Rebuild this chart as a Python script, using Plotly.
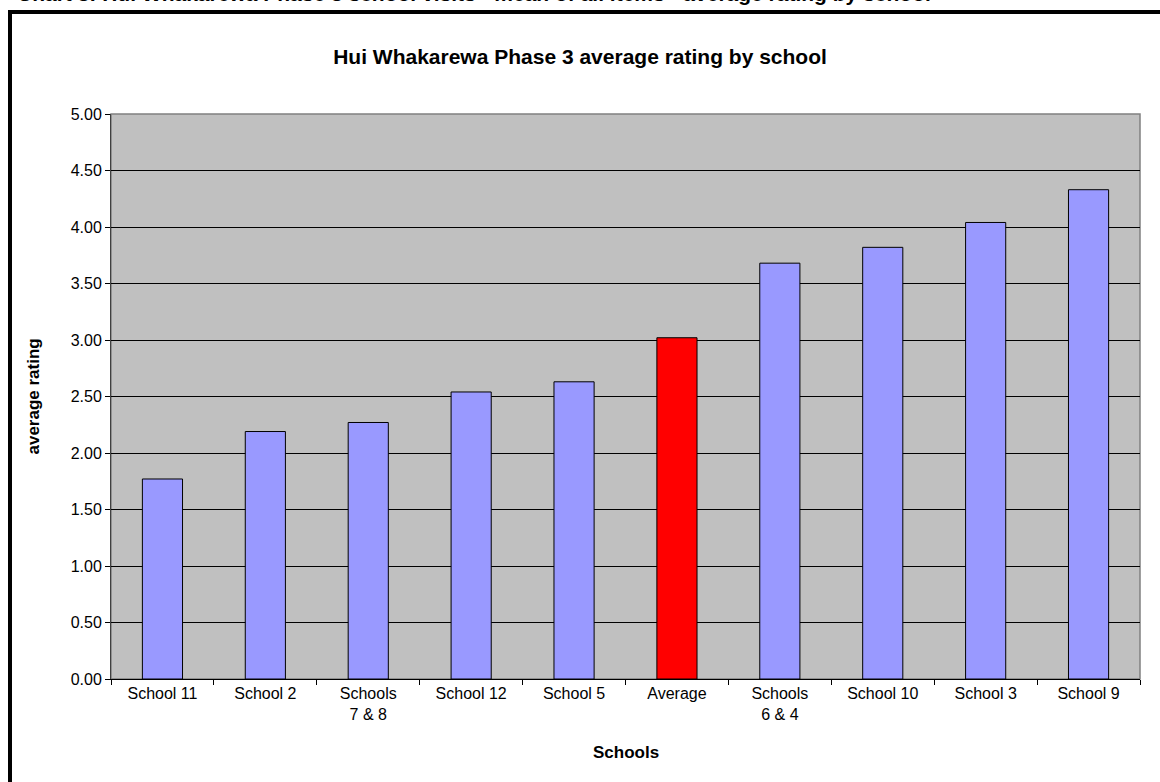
import plotly.graph_objects as go

# Valores
escolas = ["School 11", "School 2", "Schools<br>7 & 8", "School 12", "School 5",
           "Average", "Schools<br>6 & 4", "School 10", "School 3", "School 9"]
media = [1.77, 2.19, 2.27, 2.54, 2.63, 3.02, 3.68, 3.82, 4.04, 4.33]
cores = ["#9999FF", "#9999FF", "#9999FF", "#9999FF", "#9999FF",
         "#FF0000", "#9999FF", "#9999FF", "#9999FF", "#9999FF"]
y_ticks = [0, 0.5, 1, 1.5, 2, 2.5, 3, 3.5, 4, 4.5, 5]

fonte = "Liberation Sans, Arial, sans-serif"

fig = go.Figure()

fig.add_trace(
    go.Bar(
        x=escolas,
        y=media,
        marker_color=cores,
        marker_line_color="black",
        marker_line_width=1,
        hoverinfo="x+y",
    )
)

fig.update_layout(
    width=1160,
    height=782,
    margin=dict(l=111, r=20, t=114, b=103),
    paper_bgcolor="white",
    plot_bgcolor="#C0C0C0",
    bargap=0.61,
    showlegend=False,
    font=dict(family=fonte, size=16, color="black"),
    title=dict(
        text="<b>Hui Whakarewa Phase 3 average rating by school</b>",
        x=0.5, xanchor="center",
        y=(782 - 57) / 782, yanchor="middle",
        font=dict(size=21, family=fonte, color="black"),
    ),
    xaxis=dict(
        showline=True, linecolor="black", linewidth=1,
        ticks="outside", ticklen=5, tickcolor="black",
        tickson="boundaries",
        showgrid=False,
        tickfont=dict(size=16),
    ),
    yaxis=dict(
        range=[0, 5],
        tickvals=y_ticks,
        tickformat=".2f",
        showline=True, linecolor="#404040", linewidth=1,
        ticks="outside", ticklen=5, tickcolor="black",
        showgrid=True, gridcolor="black", gridwidth=1,
        zeroline=False,
        tickfont=dict(size=16),
    ),
    shapes=[
        # borda cinza da área do gráfico
        dict(type="rect", xref="paper", yref="paper", x0=0, x1=1, y0=0, y1=1,
             line=dict(color="#808080", width=1.5), layer="below"),
        # moldura preta do gráfico (cortada na imagem)
        dict(type="rect", xref="paper", yref="paper",
             x0=(10 - 111) / 1029, x1=(1175 - 111) / 1029,
             y0=(679 - 800) / 565, y1=(679 - 12) / 565,
             line=dict(color="black", width=4)),
    ],
    annotations=[
        dict(text="<b>average rating</b>", xref="paper", yref="paper",
             x=(33 - 111) / 1029, y=0.5, textangle=-90, showarrow=False,
             xanchor="center", yanchor="middle", font=dict(size=17)),
        dict(text="<b>Schools</b>", xref="paper", yref="paper",
             x=0.5, y=(679 - 752) / 565, showarrow=False,
             xanchor="center", yanchor="middle", font=dict(size=17)),
        # legenda cortada no topo da página
        dict(text="<b>Chart 3: Hui Whakarewa Phase 3 school visits - mean of all items - average rating by school</b>",
             xref="paper", yref="paper",
             x=(15 - 111) / 1029, y=(679 - 7) / 565, showarrow=False,
             xanchor="left", yanchor="bottom", font=dict(size=21)),
    ],
)

# remove a margem padrão da página para o gráfico começar no canto
fig.write_html("out.html", config={"displayModeBar": False},
               post_script="document.body.style.margin='0';")
